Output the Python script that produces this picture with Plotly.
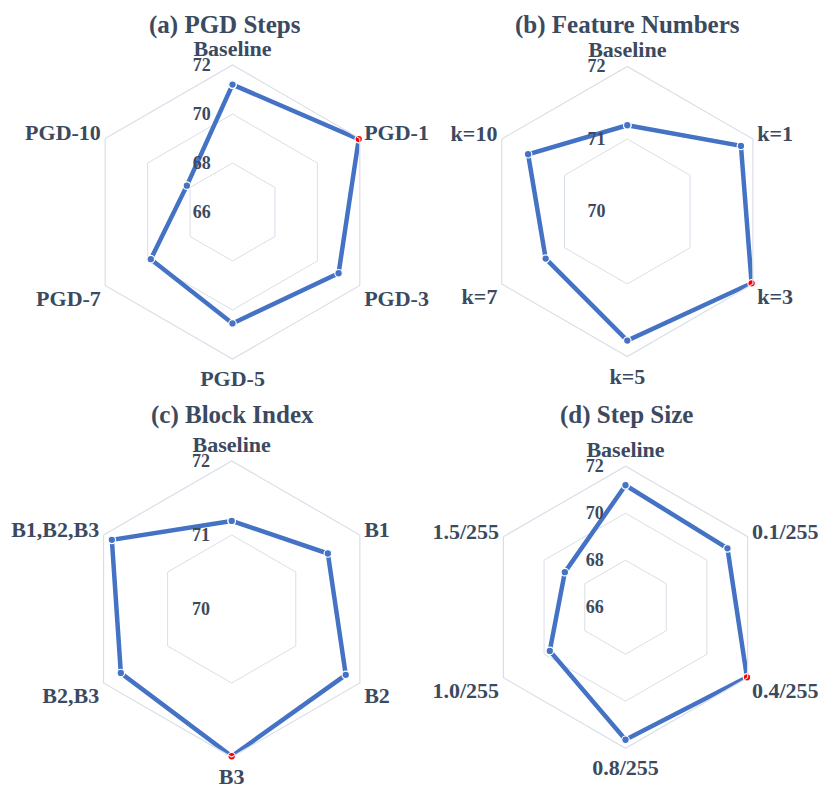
import plotly.graph_objects as go

# ---------------- data ----------------
titles = ["(a) PGD Steps", "(b) Feature Numbers", "(c) Block Index", "(d) Step Size"]

cats_a = ["Baseline", "PGD-1", "PGD-3", "PGD-5", "PGD-7", "PGD-10"]
vals_a = [71.2, 71.95, 71.0, 70.55, 69.85, 68.15]

cats_b = ["Baseline", "k=1", "k=3", "k=5", "k=7", "k=10"]
vals_b = [71.19, 71.81, 71.98, 71.78, 71.30, 71.58]

cats_c = ["Baseline", "B1", "B2", "B3", "B2,B3", "B1,B2,B3"]
vals_c = [71.19, 71.50, 71.78, 71.99, 71.73, 71.87]

cats_d = ["Baseline", "0.1/255", "0.4/255", "0.8/255", "1.0/255", "1.5/255"]
vals_d = [71.19, 71.01, 71.97, 71.64, 69.72, 68.98]

ranges = [[66, 72], [70, 72], [70, 72], [66, 72]]
dticks = [2, 1, 1, 2]

# ---------------- style / layout ----------------
OFF = 8  # page body margin
W, H = 830 - OFF, 792 - OFF
centers = [(232.5, 212), (627.3, 211.5), (231.7, 609), (625.5, 607.2)]
radii = [147, 145, 148, 141]
title_pos = [(225, 25), (627, 25), (232, 415), (626, 415)]

LINE = "#4472C4"
GRID = "#d9dfe8"
TXT = "#3b4a5f"
FONT = "Liberation Serif"


def px(x):
    return (x - OFF) / W


def py(y):
    return 1 - (y - OFF) / H


fig = go.Figure()
datasets = [(cats_a, vals_a), (cats_b, vals_b), (cats_c, vals_c), (cats_d, vals_d)]
for i, (cats, vals) in enumerate(datasets):
    mx = max(vals)
    colors = ["red" if v == mx else LINE for v in vals]
    fig.add_trace(go.Scatterpolar(
        r=vals + [vals[0]],
        theta=cats + [cats[0]],
        mode="lines+markers",
        line=dict(color=LINE, width=4.5),
        marker=dict(size=7.5, color=colors + [colors[0]], line=dict(color="white", width=1.2)),
        subplot="polar" if i == 0 else f"polar{i+1}",
        showlegend=False,
    ))
    cx, cy = centers[i]
    r = radii[i]
    dom = dict(x=[px(cx - r), px(cx + r)], y=[py(cy + r), py(cy - r)])
    polar = dict(
        domain=dom,
        bgcolor="white",
        gridshape="linear",
        angularaxis=dict(
            rotation=90, direction="clockwise",
            categoryorder="array", categoryarray=cats,
            showgrid=False, showline=True, linecolor=GRID, linewidth=1.2,
            ticks="",
            tickfont=dict(family=FONT, size=22, color=TXT, weight="bold"),
        ),
        radialaxis=dict(
            range=ranges[i], dtick=dticks[i], angle=90, tickangle=90,
            side="counterclockwise",
            showline=False, showgrid=True, gridcolor=GRID, gridwidth=1.2,
            ticks="outside", ticklen=15, tickcolor="rgba(0,0,0,0)",
            tickfont=dict(family=FONT, size=18, color=TXT, weight="bold"),
        ),
    )
    fig.update_layout(**{("polar" if i == 0 else f"polar{i+1}"): polar})
    tx, ty = title_pos[i]
    fig.add_annotation(
        x=px(tx), y=py(ty), xref="paper", yref="paper",
        text=titles[i], showarrow=False, xanchor="center", yanchor="middle",
        font=dict(family=FONT, size=25, color=TXT, weight="bold"),
    )

fig.update_layout(
    width=W, height=H,
    margin=dict(l=0, r=0, t=0, b=0),
    paper_bgcolor="white",
    plot_bgcolor="white",
)

fig.write_html("out.html")
